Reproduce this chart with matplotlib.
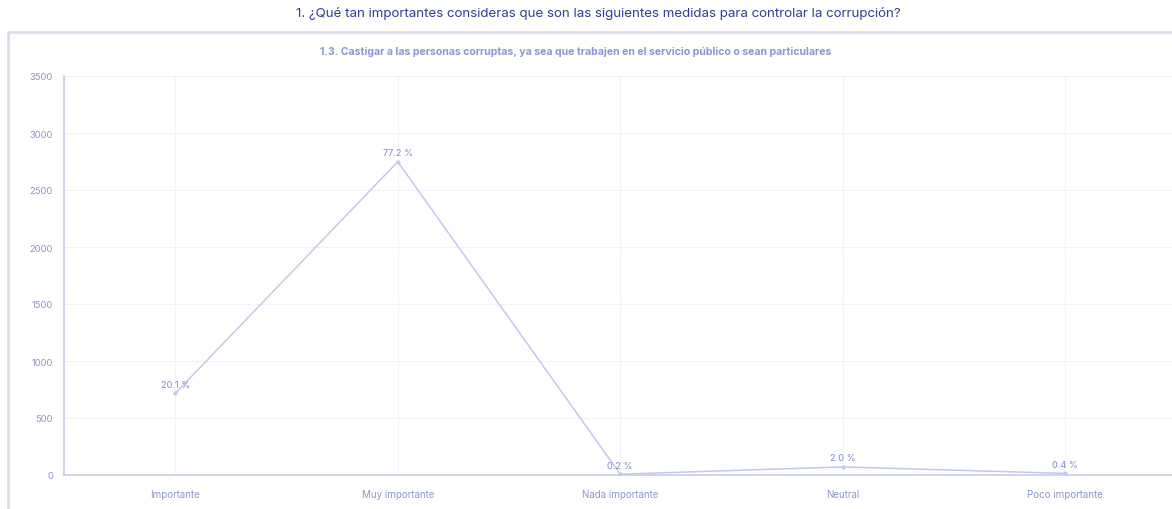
import numpy as np
import matplotlib.pyplot as plt
from matplotlib.patches import Rectangle

# respuestas a la pregunta 1.3
categorias = ["Importante", "Muy importante", "Nada importante", "Neutral", "Poco importante"]
conteos = [716, 2748, 7, 71, 14]
porcentajes = ["20.1 %", "77.2 %", "0.2 %", "2.0 %", "0.4 %"]
yticks = [0, 500, 1000, 1500, 2000, 2500, 3000, 3500]

titulo = "1. ¿Qué tan importantes consideras que son las siguientes medidas para controlar la corrupción?"
subtitulo = "1.3. Castigar a las personas corruptas, ya sea que trabajen en el servicio público o sean particulares"

plt.rcParams['font.family'] = ['Inter', 'DejaVu Sans']

W, H = 1172, 510
fig = plt.figure(figsize=(W / 100, H / 100), dpi=100)
fig.patch.set_facecolor("white")

# marco del panel
fig.patches.append(Rectangle((8 / W, -0.05), 1.2, (H - 33) / H + 0.05,
                             transform=fig.transFigure, fill=False,
                             edgecolor="#d6dbe9", linewidth=1.8))

fig.text(598 / W, 1 - 14 / H, titulo, ha="center", va="center", fontsize=9.6, color="#2f3e96")
fig.text(576 / W, 1 - 52 / H, subtitulo, ha="center", va="center", fontsize=7.6,
         color="#8b97d4", fontweight="bold")

ax = fig.add_axes([64 / W, 1 - 476 / H, (W - 64) / W, (476 - 77) / H])
x = np.arange(len(categorias))
line_col = "#c3c9ea"
ax.plot(x, conteos, color=line_col, linewidth=1.1, marker="o", markersize=2, zorder=3)
for xi, yi, p in zip(x, conteos, porcentajes):
    ax.text(xi, yi + 40, p, ha="center", va="bottom", fontsize=6.6, color="#7d8bcc")

ax.set_xlim(-0.5, 4.48)
ax.set_ylim(0, 3500)
ax.set_yticks(yticks)
ax.set_yticklabels([str(t) for t in yticks], fontsize=6.8, color="#8c97c8")
ax.set_xticks(x)
ax.set_xticklabels(categorias, fontsize=7, color="#8c97c8")
ax.tick_params(axis="x", length=0, pad=10)
ax.tick_params(axis="y", length=0, pad=8)
ax.grid(True, color="#f2f3f8", linewidth=0.8)
for s in ["top", "right"]:
    ax.spines[s].set_visible(False)
ax.spines["left"].set_color("#c9cde6")
ax.spines["bottom"].set_color("#c9cde6")
ax.spines["left"].set_linewidth(1.2)
ax.spines["bottom"].set_linewidth(1.2)

fig.savefig("out.png", dpi=100)
